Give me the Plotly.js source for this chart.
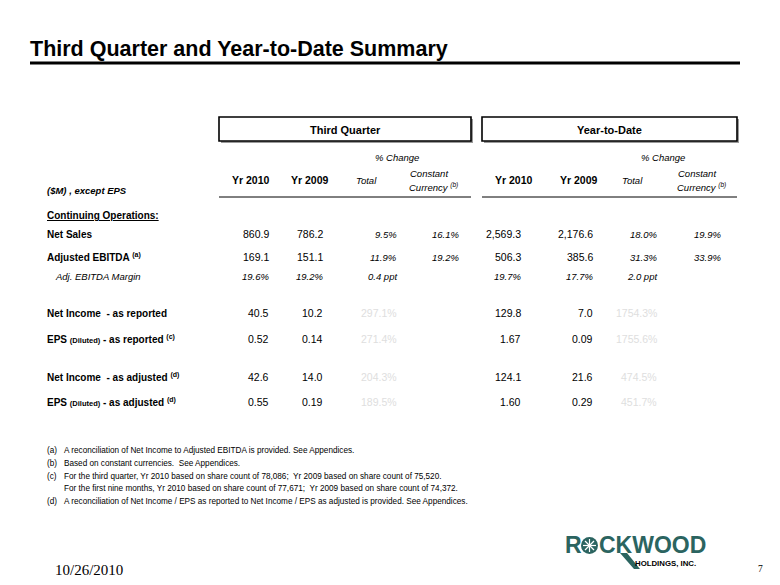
<!DOCTYPE html>
<html><head><meta charset="utf-8">
<script src="https://cdn.plot.ly/plotly-3.0.1.min.js"></script>
<style>html,body{margin:0;padding:0;background:#fff}#chart{width:780px;height:585px}</style>
</head><body><div id="chart"></div>
<script>
// ---- data ----
const title = 'Third Quarter and Year-to-Date Summary';
const groupLabels = ['Third Quarter', 'Year-to-Date'];
const colHeaders = ['Yr 2010', 'Yr 2009', 'Total', 'Constant|Currency <sup>(b)</sup>'];
const rowLabels = [
  'Net Sales',
  'Adjusted EBITDA <sup>(a)</sup>',
  'Adj. EBITDA Margin',
  'Net Income\u00a0\u00a0- as reported',
  'EPS <span style="font-size:7.5px">(Diluted)</span> - as reported <sup>(c)</sup>',
  'Net Income\u00a0\u00a0- as adjusted <sup>(d)</sup>',
  'EPS <span style="font-size:7.5px">(Diluted)</span> - as adjusted <sup>(d)</sup>'
];
const q3Yr2010 = ['860.9', '169.1', '19.6%', '40.5', '0.52', '42.6', '0.55'];
const q3Yr2009 = ['786.2', '151.1', '19.2%', '10.2', '0.14', '14.0', '0.19'];
const q3Total  = ['9.5%', '11.9%', '0.4 ppt', '297.1%', '271.4%', '204.3%', '189.5%'];
const q3CC     = ['16.1%', '19.2%', '', '', '', '', ''];
const ytdYr2010 = ['2,569.3', '506.3', '19.7%', '129.8', '1.67', '124.1', '1.60'];
const ytdYr2009 = ['2,176.6', '385.6', '17.7%', '7.0', '0.09', '21.6', '0.29'];
const ytdTotal  = ['18.0%', '31.3%', '2.0 ppt', '1754.3%', '1755.6%', '474.5%', '451.7%'];
const ytdCC     = ['19.9%', '33.9%', '', '', '', '', ''];
const footnoteKeys = ['(a)', '(b)', '(c)', '', '(d)'];
const footnotes = [
  'A reconciliation of Net Income to Adjusted EBITDA is provided. See Appendices.',
  'Based on constant currencies.\u00a0 See Appendices.',
  'For the third quarter, Yr 2010 based on share count of 78,086;\u00a0 Yr 2009 based on share count of 75,520.',
  'For the first nine months, Yr 2010 based on share count of 77,671;\u00a0 Yr 2009 based on share count of 74,372.',
  'A reconciliation of Net Income / EPS as reported to Net Income / EPS as adjusted is provided. See Appendices.'
];
const dateText = '10/26/2010';
const pageNo = '7';

// ---- layout constants ----
const FONT = 'Liberation Sans, Arial, sans-serif';
const colRight = [270, 324, 398, 460, 522, 594, 658, 722];
const headCenter = [251, 310, 366, 429, 514, 579, 632, 697];
const changeCenter = [397, 663];
const rowY = [234, 257, 276, 313, 339, 377, 402];
const footY = [450, 463, 476, 488, 501];
const faintRows = [3, 4, 5, 6];

const ann = [];
function A(o) {
  ann.push(Object.assign({xref: 'x', yref: 'y', showarrow: false, yanchor: 'middle', borderpad: 0,
    font: {family: FONT, size: 10, color: '#000'}}, o));
}
const shapes = [];

// Title
A({x: 29, y: 49, xanchor: 'left', text: '<b>' + title + '</b>',
   font: {family: FONT, size: 21.5, color: '#000'}});
shapes.push({type: 'line', xref: 'x', yref: 'y', x0: 30, x1: 740, y0: 63, y1: 63, line: {color: '#000', width: 3}});

// group boxes
const boxes = [[219, 471], [482, 737]];
boxes.forEach((b, i) => {
  shapes.push({type: 'rect', xref: 'x', yref: 'y', x0: b[0] + 2, x1: b[1] + 2, y0: 119, y1: 143, line: {width: 0}, fillcolor: '#9a9a9a'});
  shapes.push({type: 'rect', xref: 'x', yref: 'y', x0: b[0], x1: b[1], y0: 117, y1: 141, line: {color: '#000', width: 1.6}, fillcolor: '#fff'});
  A({x: (b[0] + b[1]) / 2, y: 130, xanchor: 'center', text: '<b>' + groupLabels[i] + '</b>', font: {family: FONT, size: 11, color: '#000'}});
  shapes.push({type: 'line', xref: 'x', yref: 'y', x0: b[0], x1: b[1], y0: 197, y1: 197, line: {color: '#000', width: 1}});
});

// % Change headers
changeCenter.forEach(cx => A({x: cx, y: 157, xanchor: 'center', text: '<i>% Change</i>', font: {family: FONT, size: 9.5, color: '#000'}}));

// column headers
headCenter.forEach((cx, i) => {
  const h = colHeaders[i % 4];
  if (h.indexOf('|') >= 0) {
    const parts = h.split('|');
    A({x: cx, y: 173, xanchor: 'center', text: '<i>' + parts[0] + '</i>', font: {family: FONT, size: 9.5, color: '#000'}});
    A({x: cx + 4, y: 187, xanchor: 'center', text: '<i>' + parts[1] + '</i>', font: {family: FONT, size: 9.5, color: '#000'}});
  } else if (i % 4 === 2) {
    A({x: cx, y: 180, xanchor: 'center', text: '<i>' + h + '</i>', font: {family: FONT, size: 9.5, color: '#000'}});
  } else {
    A({x: cx, y: 180, xanchor: 'center', text: '<b>' + h + '</b>', font: {family: FONT, size: 10.5, color: '#000'}});
  }
});

A({x: 46, y: 190, xanchor: 'left', text: '<b><i>($M) , except EPS</i></b>', font: {family: FONT, size: 9.5, color: '#000'}});
A({x: 46, y: 215, xanchor: 'left', text: '<b><u>Continuing Operations:</u></b>', font: {family: FONT, size: 10, color: '#000'}});

// row labels
rowLabels.forEach((t, r) => {
  if (r === 2) A({x: 54, y: rowY[r], xanchor: 'left', text: '<i>' + t + '</i>', font: {family: FONT, size: 9.5, color: '#000'}});
  else A({x: 46, y: rowY[r], xanchor: 'left', text: '<b>' + t + '</b>', font: {family: FONT, size: 10, color: '#000'}});
});

// values
const cols = [q3Yr2010, q3Yr2009, q3Total, q3CC, ytdYr2010, ytdYr2009, ytdTotal, ytdCC];
cols.forEach((arr, c) => {
  const pct = (c % 4) >= 2;
  arr.forEach((v, r) => {
    if (!v) return;
    const italic = pct || r === 2;
    const faint = pct && faintRows.indexOf(r) >= 0;
    A({x: colRight[c], y: rowY[r], xanchor: 'right', text: italic && !faint ? '<i>' + v + '</i>' : v,
       font: {family: FONT, size: (italic && !faint) ? 9.5 : 10.5, color: faint ? '#dedede' : '#000'}});
  });
});

// footnotes
footnotes.forEach((t, i) => {
  if (footnoteKeys[i]) A({x: 46, y: footY[i], xanchor: 'left', text: footnoteKeys[i], font: {family: FONT, size: 8.2, color: '#000'}});
  A({x: 63, y: footY[i], xanchor: 'left', text: t, font: {family: FONT, size: 8.2, color: '#000'}});
});

// footer
A({x: 54, y: 570, xanchor: 'left', text: dateText, font: {family: 'Liberation Serif, Times New Roman, serif', size: 15, color: '#000'}});
A({x: 757, y: 569, xanchor: 'left', text: pageNo, font: {family: 'Liberation Serif, Times New Roman, serif', size: 9.5, color: '#000'}});

// logo
const TEAL = '#2b6460';
const LOGOF = 'Liberation Sans, Arial, sans-serif';
A({x: 564, y: 545, xanchor: 'left', text: '<b>R</b>', font: {family: LOGOF, size: 23, color: TEAL}});
shapes.push({type: 'circle', xref: 'x', yref: 'y', x0: 581, x1: 598, y0: 537, y1: 554, line: {width: 0}, fillcolor: TEAL});
[[589.5, 539, 589.5, 552], [583, 545.5, 596, 545.5], [585, 541, 594, 550], [585, 550, 594, 541]].forEach(s =>
  shapes.push({type: 'line', xref: 'x', yref: 'y', x0: s[0], y0: s[1], x1: s[2], y1: s[3], line: {color: '#fff', width: 1.2}}));
A({x: 598, y: 545, xanchor: 'left', text: '<b>CKWOOD</b>', font: {family: LOGOF, size: 23, color: TEAL}});
shapes.push({type: 'path', xref: 'x', yref: 'y', path: 'M 620 553 L 634 569 L 640 569 L 627 553 Z', line: {width: 0}, fillcolor: TEAL});
A({x: 634, y: 563, xanchor: 'left', text: '<b>HOLDINGS, INC.</b>', font: {family: FONT, size: 7.8, color: '#000'}});

const layout = {
  width: 780, height: 585,
  margin: {l: 0, r: 0, t: 0, b: 0},
  paper_bgcolor: '#fff', plot_bgcolor: '#fff',
  xaxis: {range: [0, 780], visible: false, fixedrange: true},
  yaxis: {range: [585, 0], visible: false, fixedrange: true},
  showlegend: false,
  annotations: ann,
  shapes: shapes
};
Plotly.newPlot('chart', [], layout, {displayModeBar: false, staticPlot: true});
</script></body></html>
